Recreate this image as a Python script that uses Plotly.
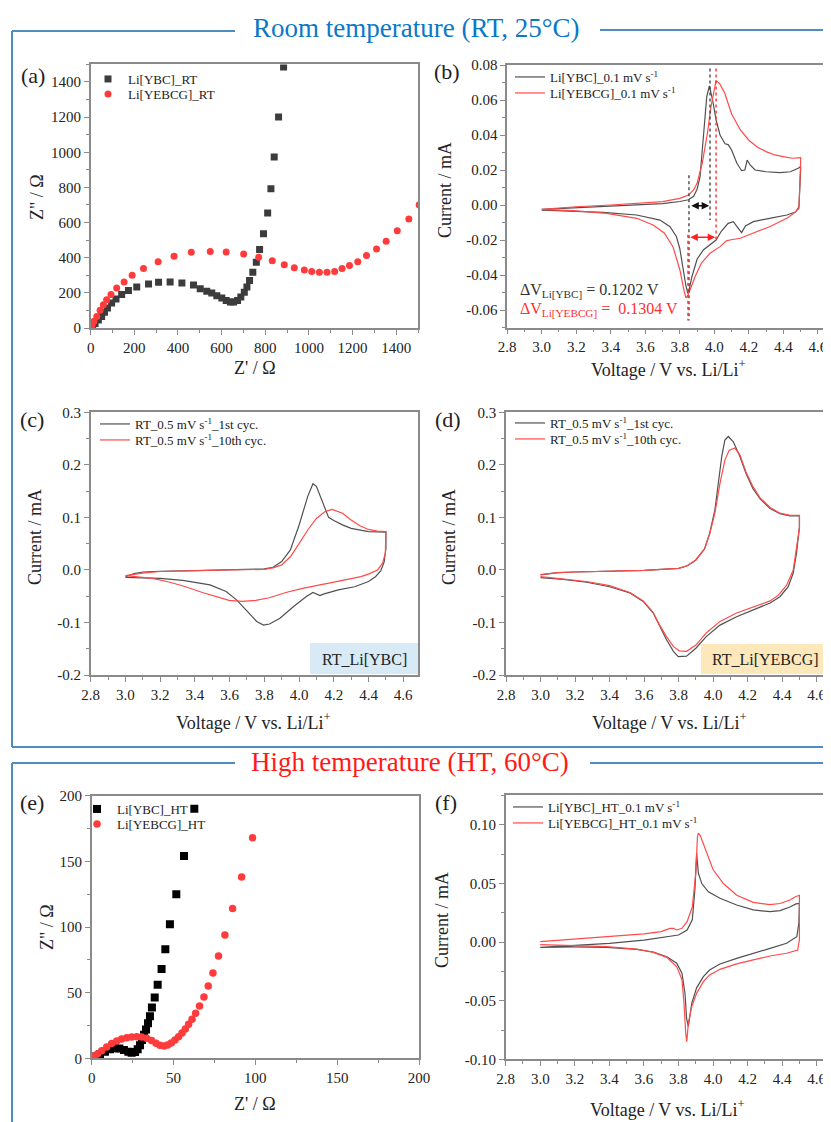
import plotly.graph_objects as go

# The page adds an 8px body margin; the figure is drawn 8px smaller and all
# reference-pixel positions are shifted by that margin.
OFF = 8
W, H = 831 - OFF, 1122 - OFF
FONT = "Liberation Serif, Times New Roman, serif"
BLK = "#3c3c3c"
RED = "#ff3b3b"

# ---------------- data ----------------
# (a) Nyquist RT
a_ybc_zre = [9, 20, 35, 50, 63, 77, 96, 116, 142, 173, 211, 265, 311, 364, 418, 471, 502, 532, 555, 578,
             601, 621, 640, 655, 673, 688, 704, 716, 728, 743, 759, 774, 792, 811, 826, 841, 861, 884]
a_ybc_zim = [9, 25, 45, 65, 90, 114, 142, 165, 190, 214, 233, 250, 260, 262, 256, 245, 224, 209, 199, 184,
             171, 157, 148, 148, 157, 176, 203, 233, 271, 317, 374, 446, 537, 654, 793, 973, 1201, 1485]
a_yebcg_zre = [6, 15, 28, 43, 58, 73, 93, 119, 153, 190, 242, 309, 382, 461, 548, 621, 701, 770, 832, 887,
               933, 979, 1013, 1048, 1083, 1118, 1152, 1186, 1224, 1264, 1310, 1354, 1405, 1458, 1505]
a_yebcg_zim = [13, 38, 66, 101, 133, 161, 190, 228, 262, 300, 338, 377, 408, 431, 436, 432, 421, 402, 383, 360,
               343, 330, 321, 317, 317, 322, 338, 355, 377, 412, 450, 493, 554, 620, 700]

# (b) CV RT 0.1 mV/s
b_ybc_v = [3.0, 3.1, 3.2, 3.3, 3.4, 3.5, 3.6, 3.7, 3.8, 3.85, 3.88, 3.90, 3.917, 3.936, 3.956, 3.971, 3.99,
           4.01, 4.033, 4.062, 4.08, 4.10, 4.13, 4.158, 4.177, 4.19, 4.207, 4.236, 4.30, 4.38, 4.44, 4.486, 4.5,
           4.5, 4.49, 4.47, 4.42, 4.32, 4.226, 4.18, 4.158, 4.14, 4.11, 4.08, 4.04, 4.01, 3.975, 3.936, 3.90,
           3.87, 3.855, 3.846, 3.835, 3.82, 3.80, 3.78, 3.743, 3.685, 3.55, 3.357, 3.164, 3.0]
b_ybc_i = [-0.0025, -0.002, -0.0015, -0.001, -0.0005, -0.0001, 0.0003, 0.0008, 0.002, 0.003, 0.005, 0.009,
           0.016, 0.041, 0.062, 0.068, 0.060, 0.0486, 0.040, 0.035, 0.0345, 0.0314, 0.024, 0.0196, 0.020,
           0.0257, 0.0229, 0.020, 0.019, 0.0185, 0.019, 0.021, 0.022,
           0.020, -0.001, -0.004, -0.0057, -0.0076, -0.0095, -0.012, -0.0158, -0.0135, -0.0095, -0.0105,
           -0.015, -0.020, -0.0229, -0.0257, -0.031, -0.041, -0.048, -0.0505, -0.046, -0.036, -0.025, -0.018,
           -0.0124, -0.0086, -0.0057, -0.0042, -0.0034, -0.0029]
b_yebcg_v = [3.0, 3.2, 3.4, 3.6, 3.7, 3.8, 3.85, 3.88, 3.90, 3.93, 3.96, 3.98, 4.0, 4.01, 4.03, 4.06, 4.10,
             4.15, 4.20, 4.25, 4.30, 4.35, 4.40, 4.45, 4.5,
             4.5, 4.49, 4.46, 4.42, 4.32, 4.226, 4.15, 4.09, 4.07, 4.033, 3.975, 3.926, 3.888, 3.859, 3.845,
             3.835, 3.824, 3.80, 3.76, 3.71, 3.645, 3.55, 3.376, 3.18, 3.0]
b_yebcg_i = [-0.0025, -0.001, 0.0, 0.001, 0.0019, 0.0038, 0.0057, 0.0086, 0.0124, 0.024, 0.041, 0.056,
             0.0667, 0.071, 0.0695, 0.064, 0.052, 0.043, 0.037, 0.033, 0.0305, 0.0286, 0.0276, 0.0267, 0.027,
             0.025, -0.002, -0.0048, -0.0076, -0.0124, -0.016, -0.019, -0.020, -0.0205, -0.0238, -0.0276,
             -0.033, -0.041, -0.0486, -0.052, -0.053, -0.0486, -0.037, -0.0238, -0.016, -0.0114, -0.0076,
             -0.0048, -0.0032, -0.0025]

# (c) Li[YBC] RT 0.5 mV/s, 1st and 10th cycle
c_1st_v = [3.0, 3.05, 3.1, 3.2, 3.4, 3.6, 3.8, 3.85, 3.9, 3.95, 4.0, 4.05, 4.08, 4.1, 4.13, 4.17, 4.2, 4.25,
           4.3, 4.4, 4.5,
           4.5, 4.49, 4.47, 4.44, 4.4, 4.32, 4.226, 4.14, 4.12, 4.08, 4.04, 3.967, 3.89, 3.83, 3.795, 3.756,
           3.70, 3.64, 3.58, 3.487, 3.33, 3.2, 3.0]
c_1st_i = [-0.013, -0.007, -0.004, -0.0025, -0.0013, 0.0, 0.002, 0.005, 0.016, 0.038, 0.085, 0.14, 0.164,
           0.159, 0.133, 0.10, 0.094, 0.0857, 0.079, 0.073, 0.072,
           0.04, 0.015, -0.002, -0.013, -0.022, -0.032, -0.038, -0.046, -0.049, -0.043, -0.051, -0.07,
           -0.092, -0.103, -0.105, -0.098, -0.079, -0.057, -0.041, -0.0286, -0.020, -0.016, -0.014]
c_10th_v = [3.0, 3.1, 3.2, 3.4, 3.6, 3.8, 3.85, 3.9, 3.95, 4.0, 4.05, 4.1, 4.15, 4.19, 4.25, 4.3, 4.35, 4.4,
            4.45, 4.5,
            4.5, 4.497, 4.481, 4.452, 4.404, 4.356, 4.308, 4.212, 4.116, 4.097, 4.02, 3.924, 3.828, 3.751,
            3.674, 3.597, 3.52, 3.443, 3.347, 3.251, 3.155, 3.0]
c_10th_i = [-0.011, -0.006, -0.003, -0.001, 0.0, 0.001, 0.004, 0.0095, 0.025, 0.05, 0.076, 0.098, 0.111,
            0.115, 0.108, 0.095, 0.084, 0.077, 0.074, 0.073,
            0.063, 0.032, 0.013, 0.0, -0.0076, -0.0127, -0.016, -0.022, -0.0286, -0.03, -0.035, -0.043,
            -0.053, -0.058, -0.06, -0.058, -0.051, -0.043, -0.032, -0.023, -0.016, -0.011]

# (d) Li[YEBCG] RT 0.5 mV/s
d_1st_v = [3.0, 3.1, 3.2, 3.4, 3.6, 3.8, 3.85, 3.9, 3.95, 3.98, 4.01, 4.03, 4.05, 4.068, 4.088, 4.117, 4.155,
           4.19, 4.23, 4.27, 4.33, 4.387, 4.445, 4.5,
           4.5, 4.483, 4.464, 4.435, 4.387, 4.33, 4.23, 4.136, 4.04, 3.96, 3.90, 3.846, 3.798, 3.77, 3.73,
           3.69, 3.653, 3.595, 3.518, 3.40, 3.267, 3.132, 3.0]
d_1st_i = [-0.0095, -0.005, -0.004, -0.002, -0.001, 0.003, 0.008, 0.019, 0.040, 0.07, 0.114, 0.165, 0.216,
           0.247, 0.254, 0.244, 0.216, 0.184, 0.155, 0.136, 0.117, 0.107, 0.103, 0.103,
           0.082, 0.032, -0.006, -0.032, -0.051, -0.063, -0.076, -0.089, -0.105, -0.127, -0.149, -0.164,
           -0.165, -0.155, -0.133, -0.108, -0.082, -0.060, -0.044, -0.032, -0.0235, -0.018, -0.0146]
d_10th_v = [3.0, 3.1, 3.2, 3.4, 3.6, 3.8, 3.85, 3.9, 3.95, 3.98, 4.01, 4.04, 4.068, 4.093, 4.126, 4.155,
            4.19, 4.23, 4.27, 4.33, 4.387, 4.445, 4.5,
            4.5, 4.483, 4.464, 4.426, 4.378, 4.33, 4.23, 4.136, 4.04, 3.96, 3.90, 3.846, 3.804, 3.77, 3.73,
            3.69, 3.653, 3.595, 3.518, 3.40, 3.267, 3.132, 3.0]
d_10th_i = [-0.009, -0.005, -0.004, -0.002, -0.001, 0.003, 0.008, 0.019, 0.040, 0.068, 0.108, 0.165, 0.209,
            0.228, 0.232, 0.219, 0.187, 0.159, 0.138, 0.119, 0.108, 0.104, 0.104,
            0.08, 0.038, 0.0, -0.029, -0.048, -0.059, -0.071, -0.082, -0.098, -0.12, -0.143, -0.155, -0.154,
            -0.146, -0.127, -0.105, -0.081, -0.059, -0.043, -0.030, -0.022, -0.017, -0.0127]

# (e) Nyquist HT
e_ybc_zre = [2.6, 5.1, 8.1, 11.2, 14.2, 16.9, 19.7, 22.4, 24.4, 26.5, 28.1, 29.5, 30.7, 32.0, 33.2, 34.4,
             35.6, 36.8, 38.5, 40.3, 42.7, 45.0, 47.8, 51.7, 56.4, 62.7]
e_ybc_zim = [1.3, 3.0, 5.0, 6.9, 7.6, 7.4, 6.3, 5.0, 4.3, 4.8, 6.9, 10, 14, 18, 22, 26.6, 32, 38.6, 46.4, 56,
             68, 83, 102, 125, 154, 190]
e_yebcg_zre = [1.4, 3.5, 6.1, 9.2, 12.2, 15.3, 18.3, 21.4, 24.4, 27.5, 30.5, 33.6, 36.6, 39.3, 41.7, 44.2,
               46.4, 48.6, 50.9, 53.1, 55.2, 57.2, 59.2, 61.3, 63.5, 65.9, 68.6, 71.2, 74.1, 77.5, 81.4, 86.1,
               91.6, 98.3]
e_yebcg_zim = [1.3, 3.3, 5.8, 8.6, 11.2, 13.2, 14.7, 15.7, 16.2, 16.5, 16.2, 15.2, 13.5, 11.4, 9.9, 9.4,
               10.2, 11.7, 14.0, 16.5, 19.3, 22.3, 25.9, 29.7, 34.3, 39.8, 46.7, 55, 65, 78, 94, 114, 138, 168]

# (f) CV HT 0.1 mV/s
f_ybc_v = [3.0, 3.2, 3.4, 3.6, 3.7, 3.75, 3.8, 3.85, 3.88, 3.895, 3.905, 3.915, 3.935, 3.973, 4.04, 4.137,
           4.233, 4.33, 4.388, 4.445, 4.48, 4.5,
           4.497, 4.485, 4.426, 4.33, 4.233, 4.137, 4.04, 3.98, 3.944, 3.905, 3.877, 3.857, 3.847, 3.838,
           3.82, 3.79, 3.732, 3.655, 3.558, 3.385, 3.19, 3.0]
f_ybc_i = [-0.0044, -0.0027, -0.001, 0.0018, 0.004, 0.0053, 0.0061, 0.0104, 0.019, 0.0445, 0.076, 0.059,
           0.050, 0.043, 0.0374, 0.0317, 0.0275, 0.026, 0.0269, 0.030, 0.0326, 0.033,
           0.0164, 0.0047, -0.001, -0.0053, -0.0095, -0.0138, -0.0186, -0.0238, -0.0294, -0.039, -0.052,
           -0.072, -0.065, -0.044, -0.0266, -0.018, -0.0124, -0.0084, -0.0061, -0.0044, -0.0041, -0.0044]
f_yebcg_v = [3.0, 3.2, 3.4, 3.6, 3.7, 3.75, 3.77, 3.79, 3.82, 3.85, 3.88, 3.9, 3.91, 3.915, 3.925, 3.963,
             4.0, 4.06, 4.137, 4.233, 4.33, 4.388, 4.445, 4.48, 4.5,
             4.5, 4.49, 4.426, 4.33, 4.233, 4.137, 4.04, 3.98, 3.944, 3.905, 3.877, 3.857, 3.848, 3.842, 3.832,
             3.82, 3.79, 3.732, 3.655, 3.558, 3.385, 3.19, 3.0]
f_yebcg_i = [0.0004, 0.0027, 0.0047, 0.007, 0.009, 0.0118, 0.0118, 0.0104, 0.0118, 0.0175, 0.030, 0.0587,
             0.090, 0.093, 0.0914, 0.076, 0.062, 0.050, 0.040, 0.034, 0.032, 0.033, 0.036, 0.039, 0.040,
             0.002, -0.0067, -0.0095, -0.0118, -0.0152, -0.0186, -0.0232, -0.028, -0.0337, -0.0437, -0.055,
             -0.0693, -0.085, -0.078, -0.052, -0.032, -0.021, -0.013, -0.0087, -0.006, -0.0038, -0.003, -0.0021]

# peak positions marked in (b)
b_ybc_peaks = [3.853, 3.975]
b_yebcg_peaks = [3.847, 4.010]

# tick labels
z_rt_ticks = [0, 200, 400, 600, 800, 1000, 1200, 1400]
v_ticks = [2.8, 3.0, 3.2, 3.4, 3.6, 3.8, 4.0, 4.2, 4.4, 4.6]
b_i_ticks = [-0.06, -0.04, -0.02, 0.0, 0.02, 0.04, 0.06, 0.08]
b_i_text = ["-0.06", "-0.04", "-0.02", "0.00", "0.02", "0.04", "0.06", "0.08"]
cd_i_ticks = [-0.2, -0.1, 0.0, 0.1, 0.2, 0.3]
cd_i_text = ["-0.2", "-0.1", "0.0", "0.1", "0.2", "0.3"]
z_ht_ticks = [0, 50, 100, 150, 200]
f_i_ticks = [-0.10, -0.05, 0.0, 0.05, 0.10]
f_i_text = ["-0.10", "-0.05", "0.00", "0.05", "0.10"]


# ---------------- helpers (arguments in reference-image pixels) ----------------
def PX(x):
    return (x - OFF) / W


def PY(y):
    return 1 - (y - OFF) / H


def xdom(l, r):
    return [PX(l), min(PX(r), 1.0)]


def ydom(t, b):
    return [PY(b), PY(t)]


def axis(dom, rng, tv, tt, minor_dtick, anchor):
    return dict(domain=dom, range=rng, tickmode="array", tickvals=tv, ticktext=tt,
                showline=True, mirror=True, linecolor="#8a8a8a", linewidth=1.6,
                ticks="outside", ticklen=5, tickwidth=1.2, tickcolor="#8a8a8a",
                minor=dict(ticks="outside", ticklen=3, tickwidth=1, tickcolor="#8a8a8a",
                           dtick=minor_dtick, tick0=0),
                showgrid=False, zeroline=False, anchor=anchor, automargin=False,
                tickfont=dict(family=FONT, size=15, color="#222"))


v_text = [f"{v:.1f}" for v in v_ticks]

fig = go.Figure()
legends = {}
leg_count = [0]


def add(x, y, name, xa, ya, text_x, row_y, mode="lines", color="#505050", symbol=None, size=7):
    leg_count[0] += 1
    key = "legend" if leg_count[0] == 1 else f"legend{leg_count[0]}"
    kw = dict(x=x, y=y, mode=mode, name=name, xaxis=xa, yaxis=ya, legend=key, showlegend=True)
    if mode == "lines":
        kw["line"] = dict(color=color, width=1.2)
    else:
        kw["marker"] = dict(symbol=symbol, size=size, color=color)
    fig.add_trace(go.Scatter(**kw))
    legends[key] = dict(x=PX(text_x - 40), y=PY(row_y - 14), xanchor="left", yanchor="top",
                        bgcolor="rgba(0,0,0,0)", borderwidth=0, itemwidth=30, visible=True,
                        font=dict(family=FONT, size=13, color="#222"))


add(a_ybc_zre, a_ybc_zim, "Li[YBC]_RT", "x", "y", 128, 78, "markers", BLK, "square")
add(a_yebcg_zre, a_yebcg_zim, "Li[YEBCG]_RT", "x", "y", 128, 93, "markers", RED, "circle")
add(b_ybc_v, b_ybc_i, "Li[YBC]_0.1 mV s<sup>-1</sup>", "x2", "y2", 550, 76)
add(b_yebcg_v, b_yebcg_i, "Li[YEBCG]_0.1 mV s<sup>-1</sup>", "x2", "y2", 550, 92, color="#ff4a4a")
add(c_1st_v, c_1st_i, "RT_0.5 mV s<sup>-1</sup>_1st cyc.", "x3", "y3", 135, 423)
add(c_10th_v, c_10th_i, "RT_0.5 mV s<sup>-1</sup>_10th cyc.", "x3", "y3", 135, 439, color="#ff4a4a")
add(d_1st_v, d_1st_i, "RT_0.5 mV s<sup>-1</sup>_1st cyc.", "x4", "y4", 550, 422)
add(d_10th_v, d_10th_i, "RT_0.5 mV s<sup>-1</sup>_10th cyc.", "x4", "y4", 550, 438, color="#ff4a4a")
add(e_ybc_zre, e_ybc_zim, "Li[YBC]_HT", "x5", "y5", 117, 808, "markers", "#000", "square", 8)
add(e_yebcg_zre, e_yebcg_zim, "Li[YEBCG]_HT", "x5", "y5", 117, 823, "markers", RED, "circle", 7.5)
add(f_ybc_v, f_ybc_i, "Li[YBC]_HT_0.1 mV s<sup>-1</sup>", "x6", "y6", 548, 806)
add(f_yebcg_v, f_yebcg_i, "Li[YEBCG]_HT_0.1 mV s<sup>-1</sup>", "x6", "y6", 548, 822, color="#ff4a4a")

lay = dict(width=W, height=H, margin=dict(l=0, r=0, t=0, b=0, pad=0, autoexpand=False),
           showlegend=True, paper_bgcolor="white", plot_bgcolor="white",
           font=dict(family=FONT, color="#222"))
lay.update(legends)

lay["xaxis"] = axis(xdom(90.7, 418), [0, 1500], z_rt_ticks, [str(t) for t in z_rt_ticks], 100, "y")
lay["yaxis"] = axis(ydom(64.4, 328), [0, 1500], z_rt_ticks, [str(t) for t in z_rt_ticks], 100, "x")
lay["xaxis2"] = axis(xdom(507.2, 830), [2.8, 4.67], v_ticks, v_text, 0.1, "y2")
lay["yaxis2"] = axis(ydom(65, 327.5), [-0.07, 0.08], b_i_ticks, b_i_text, 0.01, "x2")
lay["xaxis3"] = axis(xdom(90.7, 418), [2.8, 4.685], v_ticks, v_text, 0.1, "y3")
lay["yaxis3"] = axis(ydom(412.3, 675), [-0.2, 0.3], cd_i_ticks, cd_i_text, 0.05, "x3")
lay["xaxis4"] = axis(xdom(506, 830), [2.8, 4.677], v_ticks, v_text, 0.1, "y4")
lay["yaxis4"] = axis(ydom(412.3, 675), [-0.2, 0.3], cd_i_ticks, cd_i_text, 0.05, "x4")
lay["xaxis5"] = axis(xdom(91.7, 419), [0, 200], z_ht_ticks, [str(t) for t in z_ht_ticks], 25, "y5")
lay["yaxis5"] = axis(ydom(795.7, 1058.3), [0, 200], z_ht_ticks, [str(t) for t in z_ht_ticks], 25, "x5")
lay["xaxis6"] = axis(xdom(505.7, 830), [2.8, 4.677], v_ticks, v_text, 0.1, "y6")
lay["yaxis6"] = axis(ydom(795, 1059.3), [-0.1, 0.1256], f_i_ticks, f_i_text, 0.025, "x6")
fig.update_layout(**lay)

shapes = []
FR = "#4f8cc0"
# frames
for seg in [(12, 31, 235, 31), (600, 30, 831, 30), (12, 31, 12, 747), (12, 747, 831, 747),
            (12, 763, 235, 763), (590, 763, 831, 763), (12, 763, 12, 1122)]:
    shapes.append(dict(type="line", xref="paper", yref="paper", x0=PX(seg[0]), y0=PY(seg[1]),
                       x1=PX(seg[2]), y1=PY(seg[3]), line=dict(color=FR, width=2)))
# inset boxes
shapes.append(dict(type="rect", xref="paper", yref="paper", x0=PX(310), x1=PX(418), y0=PY(674), y1=PY(643),
                   fillcolor="#d7eaf6", line=dict(width=0), layer="below"))
shapes.append(dict(type="rect", xref="paper", yref="paper", x0=PX(701), x1=PX(830), y0=PY(674), y1=PY(644),
                   fillcolor="#fce8bb", line=dict(width=0), layer="below"))
# dashed peak lines in (b)
shapes.append(dict(type="line", xref="x2", yref="y2", x0=b_ybc_peaks[1], x1=b_ybc_peaks[1], y0=0.078,
                   y1=-0.0086, line=dict(color="#444", width=1.4, dash="dot")))
shapes.append(dict(type="line", xref="x2", yref="y2", x0=b_ybc_peaks[0], x1=b_ybc_peaks[0], y0=0.017,
                   y1=-0.066, line=dict(color="#444", width=1.4, dash="dot")))
shapes.append(dict(type="line", xref="x2", yref="y2", x0=b_yebcg_peaks[1], x1=b_yebcg_peaks[1], y0=0.078,
                   y1=-0.020, line=dict(color="#ff3030", width=1.4, dash="dot")))
shapes.append(dict(type="line", xref="x2", yref="y2", x0=b_yebcg_peaks[0], x1=b_yebcg_peaks[0], y0=-0.017,
                   y1=-0.066, line=dict(color="#ff3030", width=1.4, dash="dot")))
fig.update_layout(shapes=shapes)

ann = []


def txt(x, y, s, size=18, color="#222", angle=0, xanchor="center"):
    ann.append(dict(x=PX(x), y=PY(y), xref="paper", yref="paper", text=s, showarrow=False,
                    textangle=angle, xanchor=xanchor, yanchor="middle",
                    font=dict(family=FONT, size=size, color=color)))


txt(416, 28, "Room temperature (RT, 25°C)", 27, "#0b78c6")
txt(410, 762, "High temperature (HT, 60°C)", 27, "#ff1a1a")
for lab, x, y in [("(a)", 33, 75), ("(b)", 447, 72), ("(c)", 32, 419), ("(d)", 448, 419), ("(e)", 32, 802),
                  ("(f)", 446, 802)]:
    txt(x, y, lab, 22, "#222")
VT = "Voltage / V vs. Li/Li<sup>+</sup>"
txt(255, 368, "Z' / Ω", 18)
txt(37, 197, 'Z" / Ω', 18, angle=-90)
txt(668, 368, VT, 18)
txt(445, 190, "Current / mA", 18, angle=-90)
txt(254, 721, VT, 18)
txt(35, 537, "Current / mA", 18, angle=-90)
txt(669, 721, VT, 18)
txt(449, 537, "Current / mA", 18, angle=-90)
txt(255, 1104, "Z' / Ω", 18)
txt(47, 927, 'Z" / Ω', 18, angle=-90)
txt(667, 1108, VT, 18)
txt(442, 920, "Current / mA", 18, angle=-90)
txt(364, 659, "RT_Li[YBC]", 16, "#222")
txt(765, 659, "RT_Li[YEBCG]", 16, "#222")
txt(518, 290, "ΔV<sub>Li[YBC]</sub> = 0.1202 V", 16, "#333", xanchor="left")
txt(518, 309, "ΔV<sub>Li[YEBCG]</sub> =  0.1304 V", 16, "#ff3030", xanchor="left")

# double arrows in (b)
for (x0, x1, y, col) in [(b_ybc_peaks[0] + 0.005, b_ybc_peaks[1] - 0.005, -0.0005, "#111"),
                         (b_yebcg_peaks[0] + 0.005, b_yebcg_peaks[1] - 0.005, -0.0185, "#ff2020")]:
    ann.append(dict(x=x1, y=y, ax=x0, ay=y, xref="x2", yref="y2", axref="x2", ayref="y2", text="",
                    showarrow=True, arrowhead=2, arrowside="end+start", arrowsize=1, arrowwidth=1.5,
                    arrowcolor=col))

fig.update_layout(annotations=ann)
fig.write_html("out.html")
